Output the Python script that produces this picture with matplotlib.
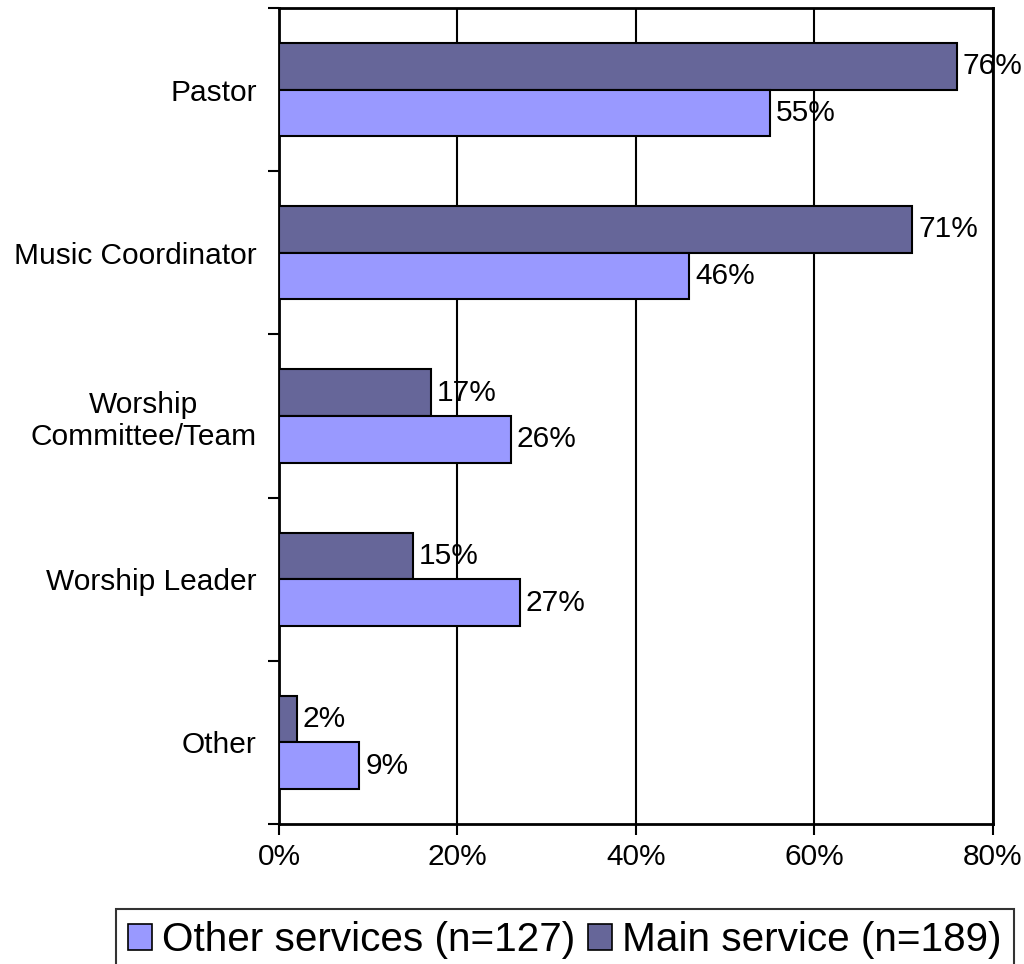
import matplotlib
matplotlib.use("Agg")
import matplotlib.pyplot as plt
import numpy as np
from matplotlib.patches import Patch

categories = ["Pastor", "Music Coordinator", "Worship\nCommittee/Team",
              "Worship Leader", "Other"]
main_service = [76, 71, 17, 15, 2]
other_services = [55, 46, 26, 27, 9]
xticks = [0, 20, 40, 60, 80]

DARK = "#666699"
LIGHT = "#9999FF"

plt.rcParams.update({"font.family": ["Liberation Sans", "DejaVu Sans"],
                     "font.size": 21.5})

fig = plt.figure(figsize=(10.24, 9.64), dpi=100)
ax = fig.add_axes([0.2725, 0.1452, 0.697, 0.8465])

y = np.arange(len(categories))
w = 0.2857
b1 = ax.barh(y - w / 2, main_service, height=w, color=DARK,
             edgecolor="black", linewidth=1.5, zorder=3)
b2 = ax.barh(y + w / 2, other_services, height=w, color=LIGHT,
             edgecolor="black", linewidth=1.5, zorder=3)
for bars, vals in ((b1, main_service), (b2, other_services)):
    for bar, v in zip(bars, vals):
        ax.text(v + 0.65, bar.get_y() + bar.get_height() / 2, f"{v}%",
                va="center", ha="left", zorder=4)

ax.set_xlim(0, 80)
ax.set_ylim(len(categories) - 0.5, -0.5)
ax.set_xticks(xticks)
ax.set_xticklabels([f"{t}%" for t in xticks])
ax.xaxis.grid(True, color="black", linewidth=1.5, zorder=0)
ax.set_axisbelow(True)

# category labels sit between the boundary ticks
ax.set_yticks(y)
ax.set_yticklabels(categories, multialignment="center")
ax.set_yticks(np.arange(len(categories) + 1) - 0.5, minor=True)
ax.tick_params(axis="y", which="major", length=0, pad=16)
ax.tick_params(axis="y", which="minor", length=8, width=1.5, direction="out")
ax.tick_params(axis="x", length=8, width=1.5, direction="out", pad=6)
for s in ax.spines.values():
    s.set_linewidth(2)

handles = [Patch(facecolor=LIGHT, edgecolor="black", linewidth=1.2,
                 label="Other services (n=127)"),
           Patch(facecolor=DARK, edgecolor="black", linewidth=1.2,
                 label="Main service (n=189)")]
leg = fig.legend(handles=handles, loc="upper left",
                 bbox_to_anchor=(0.113, 0.057), bbox_transform=fig.transFigure,
                 ncol=2, fontsize=29.2, frameon=True, fancybox=False,
                 edgecolor="black", handlelength=0.6, handleheight=0.6,
                 handletextpad=0.25, columnspacing=0.3, borderpad=0.3,
                 borderaxespad=0)
leg.get_frame().set_linewidth(1.5)

fig.savefig("out.png", dpi=100)
